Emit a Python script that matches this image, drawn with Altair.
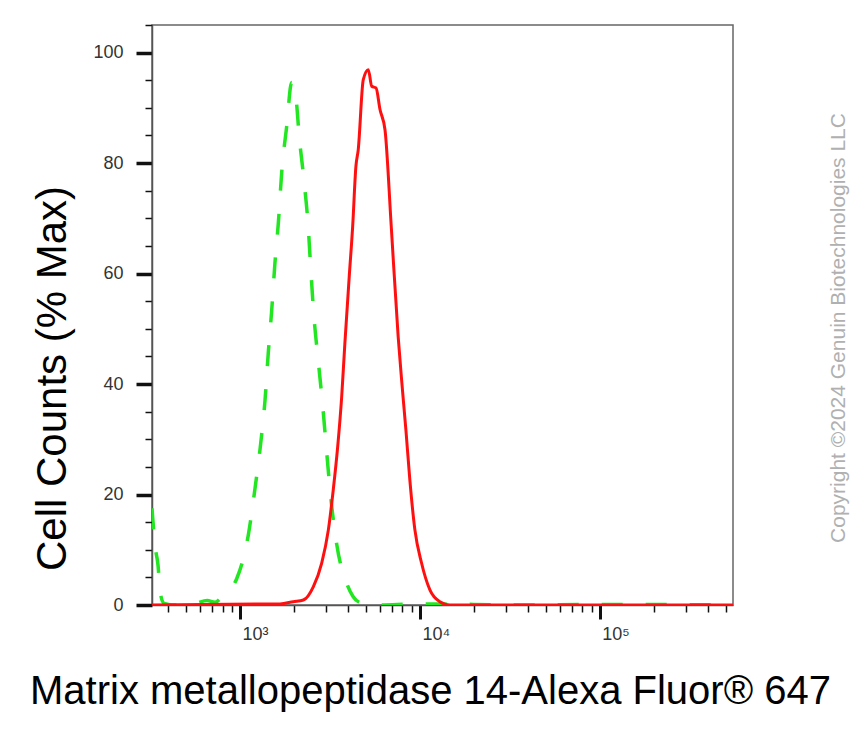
import altair as alt
import pandas as pd

# Isotype control (green dashed)
green_x = [324, 337, 350, 360, 378, 436, 562, 656, 726, 794, 959, 1112, 1211, 1303, 1377,
           1435, 1500, 1563, 1633, 1706, 1816, 1936, 2046, 2133, 2270, 2393, 2477, 2576,
           2723, 2884, 3034, 3192, 3443, 3917, 4256, 4764, 5623, 10000, 12589, 31623,
           100000, 549541]
green_y = [17.5, 10.7, 7.2, 2.2, 0.3, 0, 0.3, 0.8, 0.5, 1.5, 4.8, 12.7, 21.1, 29.3, 37.1,
           45.6, 53.4, 61.9, 69.2, 78.5, 86.6, 94.6, 91.8, 84.8, 76.7, 68.5, 60.4, 52.2,
           44.1, 35.9, 27.5, 19.6, 11.1, 3.9, 1.5, 0.3, 0, 0.2, 0.2, 0, 0.1, 0]

# MMP14 stained (red solid)
red_x = [324, 1667, 1977, 2249, 2553, 2844, 3097, 3296, 3491, 3673, 3828, 4046, 4227, 4406,
         4539, 4842, 5164, 5395, 5702, 5998, 6397, 6934, 7568, 7907, 8356, 8790, 9376,
         10209, 11376, 12912, 14689, 549541]
red_y = [0, 0.2, 0.6, 0.9, 3.3, 7.6, 13.6, 20.8, 28.7, 37.7, 47.5, 59.5, 68.5, 79.4,
         82.4, 95.1, 96.9, 93.9, 93.6, 89.7, 86.0, 68.3, 48.6, 40.8, 31.7, 22.6, 13.6,
         7.6, 2.7, 0.6, 0, 0]

x_ticks = [400, 500, 600, 700, 800, 900, 1000, 2000, 3000, 4000, 5000, 6000, 7000, 8000,
           9000, 10000, 20000, 30000, 40000, 50000, 60000, 70000, 80000, 90000, 100000,
           200000, 300000, 400000, 500000]
y_ticks = list(range(0, 106, 5))

x_title = "Matrix metallopeptidase 14-Alexa Fluor® 647"
y_title = "Cell Counts (% Max)"
copyright_text = "Copyright ©2024 Genuin Biotechnologies LLC"

green_df = pd.DataFrame({"x": green_x, "y": green_y})
red_df = pd.DataFrame({"x": red_x, "y": red_y})

FONT = "Liberation Sans"
major_x = "datum.value==1000||datum.value==10000||datum.value==100000"
major_y = "datum.value % 20 == 0"

x_enc = alt.X(
    "x:Q",
    scale=alt.Scale(type="log", domain=[324, 550000], nice=False),
    axis=alt.Axis(
        values=x_ticks,
        labelExpr="datum.value==1000?'10³':datum.value==10000?'10⁴':datum.value==100000?'10⁵':''",
        labelOverlap=False, labelFlush=False, labelBound=False,
        labelFont=FONT, labelFontSize=18, labelColor="#333333",
        labelAlign="left", labelOffset=2, labelPadding=6,
        tickSize={"condition": {"test": major_x, "value": 14}, "value": 7},
        tickWidth={"condition": {"test": major_x, "value": 3}, "value": 1.5},
        tickColor="#111111", domainColor="#555555", domainWidth=1.5,
        grid=False,
        title=x_title, titleFont=FONT, titleFontSize=40, titleFontWeight="normal",
        titleColor="#000000", titleAnchor="middle", titleAlign="center",
        titleBaseline="middle", titleX=278, titleY=86,
    ),
)

y_enc = alt.Y(
    "y:Q",
    scale=alt.Scale(domain=[0, 105], nice=False, zero=False),
    axis=alt.Axis(
        values=y_ticks,
        labelExpr="datum.value % 20 == 0 ? datum.label : ''",
        labelOverlap=False, labelFlush=False, labelBound=False,
        labelFont=FONT, labelFontSize=18, labelColor="#333333", labelPadding=13,
        tickSize={"condition": {"test": major_y, "value": 16}, "value": 7},
        tickWidth={"condition": {"test": major_y, "value": 3.5}, "value": 1.5},
        tickColor="#111111", domainColor="#555555", domainWidth=1.5,
        grid=False,
        title=y_title, titleFont=FONT, titleFontSize=42, titleFontWeight="normal",
        titleColor="#000000", titleAngle=270, titleAlign="center",
        titleBaseline="middle", titleX=-100, titleY=353,
    ),
)

green = alt.Chart(green_df).mark_line(
    color="#22e622", strokeWidth=3.5, strokeDash=[21, 23], interpolate="monotone", clip=True
).encode(x=x_enc, y=y_enc)

red = alt.Chart(red_df).mark_line(
    color="#ff1010", strokeWidth=3, interpolate="monotone", clip=True
).encode(x=x_enc, y=y_enc)

chart = alt.layer(green, red).properties(
    width=581,
    height=580,
    autosize=alt.AutoSizeParams(type="none"),
    padding={"left": 144, "top": 17, "right": 122, "bottom": 117},
    title=alt.TitleParams(
        copyright_text, orient="right", angle=270, anchor="middle", frame="group",
        font=FONT, fontSize=21, fontWeight="normal", color="#b0b0b0", offset=-12,
        baseline="middle", dx=-13,
    ),
).configure_view(stroke="#666666", strokeWidth=1.5)

chart.save("out.html", embed_options={"renderer": "svg", "actions": False})
